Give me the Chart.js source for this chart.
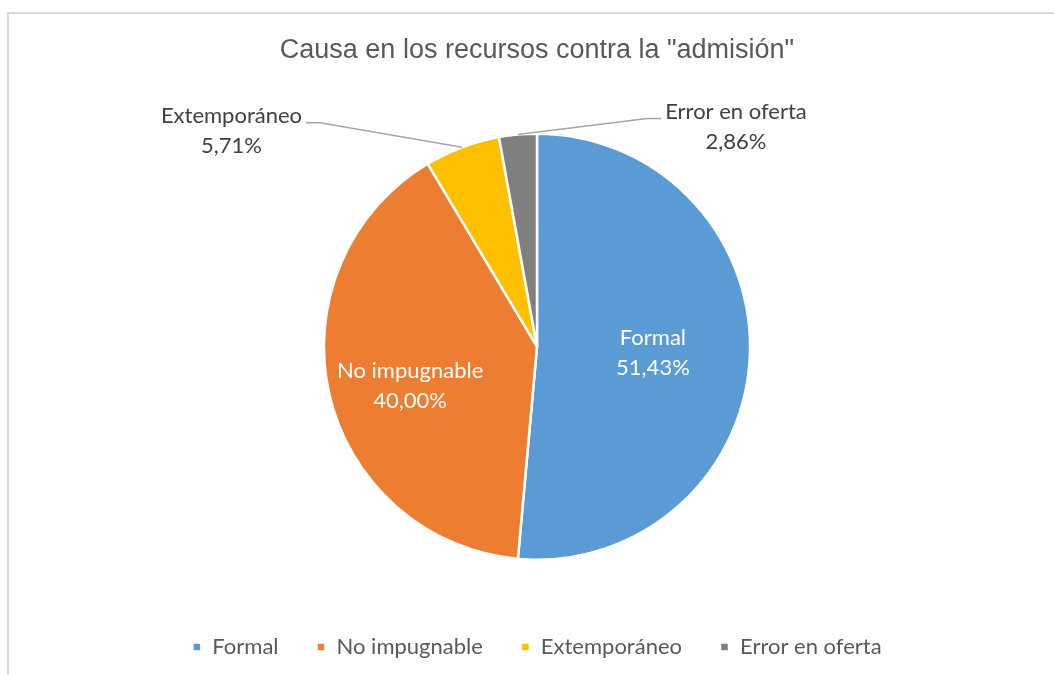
<!DOCTYPE html>
<html>
<head>
<meta charset="utf-8">
<script src="https://cdn.jsdelivr.net/npm/chart.js@4/dist/chart.umd.min.js"></script>
<style>
  body { margin: 0; background: #fff; }
  #wrap { position: relative; width: 1054px; height: 675px; overflow: hidden; }
  #frame { position: absolute; left: 7px; top: 12px; width: 1100px; height: 700px;
           border-top: 2px solid #d9d9d9; border-left: 2px solid #d9d9d9; }
  canvas { position: absolute; left: 0; top: 0; }
</style>
</head>
<body>
<div id="wrap">
  <div id="frame"></div>
  <canvas id="myChart" width="1054" height="675"></canvas>
</div>
<script>
const labels = ['Formal', 'No impugnable', 'Extemporáneo', 'Error en oferta'];
const values = [51.43, 40.00, 5.71, 2.86];
const colors = ['#5b9bd5', '#ed7d31', '#ffc000', '#7f7f7f'];

const labelFont = '"Lato", "Open Sans", sans-serif';

function pct(v) {
    return v.toFixed(2).replace('.', ',') + '%';
}

// slice labels: the two big ones sit inside, the small ones outside with a leader line
const sliceLabels = {
    id: 'sliceLabels',
    afterDatasetsDraw(chart) {
        const ctx = chart.ctx;
        const meta = chart.getDatasetMeta(0);
        // radius factor, angle shift (rad)
        const inside = { 0: [0.545, 0.01], 1: [0.623, -0.075] };
        // offset from centre in radius units, side the leader leaves from
        const outside = { 2: [-1.434, -1.014, 'right'], 3: [0.934, -1.033, 'left'] };
        ctx.save();
        ctx.font = '22px ' + labelFont;
        ctx.textAlign = 'center';
        ctx.textBaseline = 'middle';
        meta.data.forEach((arc, i) => {
            const p = arc.getProps(['x', 'y', 'startAngle', 'endAngle', 'outerRadius'], true);
            const mid = (p.startAngle + p.endAngle) / 2;
            const r = p.outerRadius;
            if (inside[i] !== undefined) {
                const a = mid + inside[i][1];
                const lx = p.x + Math.cos(a) * r * inside[i][0];
                const ly = p.y + Math.sin(a) * r * inside[i][0];
                ctx.fillStyle = '#ffffff';
                ctx.fillText(labels[i], lx, ly - 15);
                ctx.fillText(pct(values[i]), lx, ly + 15);
            } else {
                const o = outside[i];
                const lx = p.x + o[0] * r;
                const ly = p.y + o[1] * r;
                ctx.fillStyle = '#404040';
                ctx.fillText(labels[i], lx, ly - 15);
                ctx.fillText(pct(values[i]), lx, ly + 15);
                const half = ctx.measureText(labels[i]).width / 2;
                const sx = o[2] === 'right' ? lx + half + 4 : lx - half - 4;
                const kx = o[2] === 'right' ? sx + 14 : sx - 14;
                const ax = p.x + Math.cos(mid) * r;
                const ay = p.y + Math.sin(mid) * r;
                ctx.strokeStyle = '#a6a6a6';
                ctx.lineWidth = 1.5;
                ctx.beginPath();
                ctx.moveTo(sx, ly - 8);
                ctx.lineTo(kx, ly - 8);
                ctx.lineTo(ax, ay);
                ctx.stroke();
            }
        });
        ctx.restore();
    }
};

const ctx = document.getElementById('myChart').getContext('2d');
const myChart = new Chart(ctx, {
    type: 'pie',
    data: {
        labels: labels,
        datasets: [{
            data: values,
            backgroundColor: colors,
            borderColor: '#ffffff',
            borderWidth: 2.5
        }]
    },
    options: {
        responsive: false,
        animation: false,
        devicePixelRatio: 1,
        layout: { padding: { top: 0, left: 20, right: 0, bottom: 7 } },
        plugins: {
            tooltip: { enabled: false },
            title: {
                display: true,
                text: 'Causa en los recursos contra la "admisión"',
                color: '#595959',
                font: { family: '"Liberation Sans", Arial, sans-serif', size: 27, weight: 'normal' },
                padding: { top: 34, bottom: 66 }
            },
            legend: {
                position: 'bottom',
                // empty title only used as spacer above the items
                title: { display: true, text: ' ', font: { size: 10 }, padding: { top: 25, bottom: 0 } },
                labels: {
                    boxWidth: 9,
                    boxHeight: 9,
                    padding: 38,
                    color: '#595959',
                    font: { family: labelFont, size: 22 }
                }
            }
        }
    },
    plugins: [sliceLabels]
});
</script>
</body>
</html>
